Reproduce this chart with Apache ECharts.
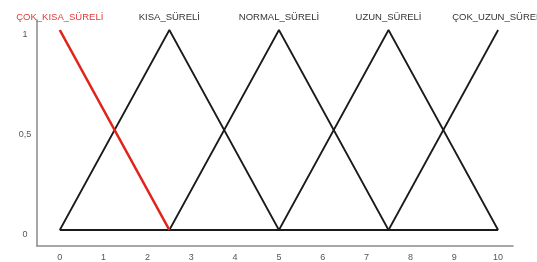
<!DOCTYPE html>
<html>
<head>
<meta charset="utf-8">
<script src="https://cdn.jsdelivr.net/npm/echarts@6/dist/echarts.min.js"></script>
<style>
  html, body { margin: 0; padding: 0; background: #fff; }
  #chart { width: 537px; height: 262px; }
</style>
</head>
<body>
<div id="chart"></div>
<script>
const setNames = ['ÇOK_KISA_SÜRELİ', 'KISA_SÜRELİ', 'NORMAL_SÜRELİ', 'UZUN_SÜRELİ', 'ÇOK_UZUN_SÜRELİ'];
// membership function corner points, [x, y]
const cokKisa = [[0, 1], [2.5, 0]];
const kisa = [[0, 0], [2.5, 1], [5, 0]];
const normal = [[2.5, 0], [5, 1], [7.5, 0]];
const uzun = [[5, 0], [7.5, 1], [10, 0]];
const cokUzun = [[7.5, 0], [10, 1]];
const baseline = [[0, 0], [10, 0]];
const xTicks = [0, 1, 2, 3, 4, 5, 6, 7, 8, 9, 10];
const yTicks = [0, 0.5, 1];

const chart = echarts.init(document.getElementById('chart'));

// only the peak point of each set carries its name
const labelled = (points, color) => points.map((p) => {
  if (p[1] !== 1) return p;
  return { value: p, label: { show: true, color } };
});

const mkSeries = (name, points, color, width, textColor) => ({
  name,
  type: 'line',
  data: labelled(points, textColor),
  symbol: 'circle',
  symbolSize: 0,
  showSymbol: true,
  lineStyle: { color, width },
  itemStyle: { color },
  label: {
    show: false,
    position: 'top',
    distance: 8,
    formatter: name,
    fontFamily: 'Liberation Sans, Arial, sans-serif',
    fontSize: 9.5,
  },
  z: color === '#e0231b' ? 3 : 2,
  animation: false,
});

const option = {
  backgroundColor: '#fff',
  grid: { left: 37, right: 24, top: 20, bottom: 14 },
  xAxis: {
    type: 'value',
    min: -0.52,
    max: 10.34,
    splitLine: { show: false },
    axisTick: { show: false },
    axisLine: { onZero: false, lineStyle: { color: '#8a8a8a', width: 1.5 } },
    axisLabel: {
      customValues: xTicks,
      color: '#555',
      fontSize: 9,
      margin: 7,
      fontFamily: 'Liberation Sans, Arial, sans-serif',
    },
  },
  yAxis: {
    type: 'value',
    min: -0.08,
    max: 1.05,
    splitLine: { show: false },
    axisTick: { show: false },
    axisLine: { show: true, onZero: false, lineStyle: { color: '#8a8a8a', width: 1.5 } },
    axisLabel: {
      customValues: yTicks,
      color: '#555',
      fontSize: 9,
      margin: 12,
      align: 'center',
      verticalAlign: 'top',
      fontFamily: 'Liberation Sans, Arial, sans-serif',
      formatter: (v) => String(v).replace('.', ','),
    },
  },
  series: [
    mkSeries('baseline', baseline, '#1a1a1a', 2, '#333'),
    mkSeries(setNames[1], kisa, '#1a1a1a', 1.8, '#333'),
    mkSeries(setNames[2], normal, '#1a1a1a', 1.8, '#333'),
    mkSeries(setNames[3], uzun, '#1a1a1a', 1.8, '#333'),
    mkSeries(setNames[4], cokUzun, '#1a1a1a', 1.8, '#333'),
    mkSeries(setNames[0], cokKisa, '#e0231b', 2.6, '#e0393a'),
  ],
};
chart.setOption(option);
</script>
</body>
</html>
